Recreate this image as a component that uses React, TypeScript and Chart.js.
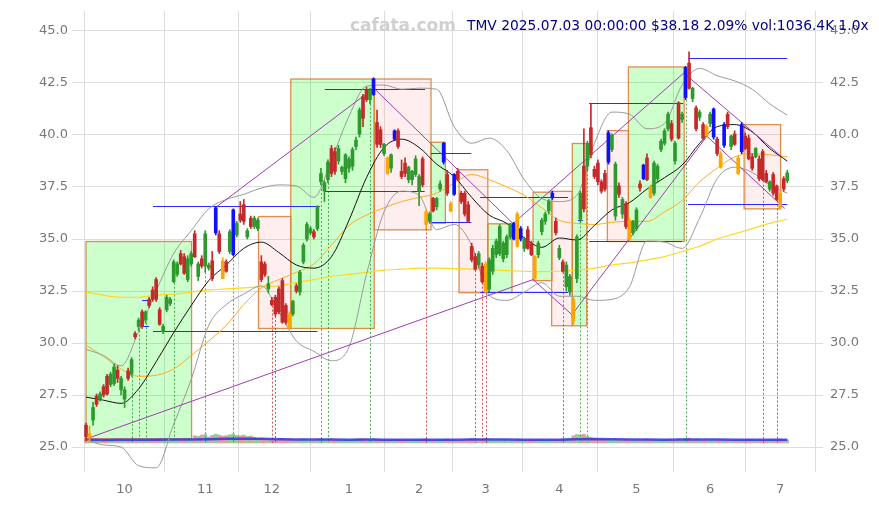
import React, { useEffect, useRef } from "react";
import { Chart, registerables } from "chart.js";
Chart.register(...registerables);

// ---- candles (trading-day index 0..200) ----
const OPEN = [
  26.05, 25.5, 26.3, 27.45, 27.3, 27.9, 28.4, 28.0, 28.05, 28.7,
  27.75, 27.3, 28.66, 28.5, 30.45, 30.8, 31.5, 31.1, 32.1, 32.55,
  33.05, 31.6, 30.55, 31.6, 31.9, 32.95, 33.3, 34.3, 34.15, 33.05,
  33.8, 35.25, 33.2, 34.05, 33.7, 33.6, 33.95, 35.3, 35.25, 33.95,
  33.9, 34.4, 34.25, 35.2, 36.2, 36.65, 35.1, 36.0, 35.6, 35.5,
  33.9, 33.8, 32.6, 32.05, 32.2, 32.6, 33.0, 31.8, 31.4, 31.4,
  32.75, 32.45, 33.9, 35.0, 35.3, 35.35, 35.5, 37.75, 37.3, 37.85,
  39.35, 39.2, 38.75, 38.25, 37.9, 38.4, 38.5, 39.45, 40.05, 41.85,
  42.15, 41.7, 41.95, 40.6, 40.25, 39.1, 38.9, 38.4, 39.8, 40.2,
  38.25, 38.65, 37.85, 37.85, 38.1, 37.3, 38.85, 36.3, 35.85, 36.95,
  36.55, 37.4, 38.7, 38.1, 36.7, 37.15, 38.25, 37.2, 37.2, 36.65,
  34.65, 34.15, 33.75, 33.7, 33.8, 32.6, 33.45, 34.25, 34.3, 34.05,
  34.25, 35.1, 35.0, 36.2, 35.0, 34.55, 35.45, 34.8, 34.15, 34.25,
  35.35, 35.85, 36.35, 37.0, 35.85, 34.1, 33.9, 32.7, 32.45, 32.1,
  33.1, 35.95, 38.5, 38.5, 40.35, 38.35, 38.65, 37.75, 38.15, 38.7,
  39.3, 36.1, 37.55, 36.2, 36.7, 35.9, 35.3, 35.5, 37.65, 37.9,
  38.9, 37.5, 37.2, 37.9, 39.3, 39.6, 40.3, 40.55, 38.75, 41.55,
  40.75, 41.8, 43.45, 41.75, 41.3, 40.85, 40.5, 40.4, 40.55, 39.9,
  39.8, 39.1, 39.5, 41.0, 39.45, 40.05, 38.9, 39.2, 39.95, 39.85,
  38.95, 38.95, 38.85, 39.2, 38.15, 37.4, 38.1, 37.55, 37.2, 37.9, 37.8,
];
const HIGH = [
  26.15, 26.0, 27.15, 27.55, 27.65, 28.0, 28.5, 28.6, 29.0, 28.9,
  28.4, 27.9, 28.8, 29.3, 30.55, 31.2, 31.6, 31.55, 32.2, 32.7,
  33.15, 31.7, 30.9, 32.3, 32.2, 34.0, 33.9, 34.45, 34.3, 34.2,
  34.4, 35.4, 33.9, 34.2, 35.4, 33.85, 34.4, 36.55, 35.4, 34.1,
  34.0, 35.45, 36.45, 35.85, 36.8, 36.9, 35.5, 36.1, 36.1, 36.0,
  34.2, 33.9, 33.2, 32.2, 32.3, 32.7, 33.1, 31.9, 31.5, 32.05,
  32.85, 33.5, 34.8, 35.8, 35.6, 35.45, 36.6, 38.4, 37.8, 38.8,
  39.5, 39.4, 39.5, 38.5, 39.1, 38.95, 39.4, 39.9, 41.3, 41.95,
  42.3, 42.25, 42.75, 41.2, 40.4, 39.6, 38.95, 39.1, 40.25, 40.3,
  38.8, 38.9, 38.5, 38.3, 39.0, 38.1, 38.95, 36.4, 36.3, 37.0,
  37.0, 37.8, 39.65, 38.3, 36.8, 38.15, 38.4, 37.3, 37.3, 36.8,
  34.8, 34.3, 34.4, 33.85, 33.9, 34.1, 34.7, 35.0, 35.7, 34.9,
  35.2, 35.75, 35.8, 36.3, 35.6, 35.1, 35.6, 34.9, 34.2, 34.9,
  36.0, 36.3, 36.9, 37.3, 36.0, 34.7, 34.0, 33.9, 33.3, 32.2,
  35.2, 37.3, 40.3, 39.7, 41.5, 38.5, 38.8, 37.85, 38.3, 40.2,
  40.05, 38.7, 37.7, 37.0, 36.8, 36.0, 35.9, 36.5, 37.8, 38.6,
  39.1, 37.6, 38.75, 38.6, 39.8, 40.3, 41.1, 40.7, 39.7, 41.6,
  41.1, 43.3, 44.0, 42.3, 41.4, 41.2, 40.6, 40.5, 41.1, 41.3,
  39.9, 39.2, 40.6, 41.1, 40.0, 40.2, 39.0, 40.6, 40.1, 40.0,
  39.1, 39.4, 39.0, 39.3, 38.3, 37.8, 38.2, 37.6, 37.3, 38.0, 38.3,
];
const LOW = [
  25.3, 25.2, 26.05, 26.95, 27.2, 27.4, 27.5, 27.9, 27.95, 28.1,
  27.5, 26.9, 28.2, 28.4, 30.2, 30.6, 30.7, 30.95, 31.7, 32.0,
  32.0, 30.85, 30.45, 31.5, 31.8, 32.9, 33.2, 33.75, 33.3, 32.95,
  33.7, 34.1, 33.0, 33.6, 33.4, 33.5, 33.0, 35.2, 34.3, 33.1,
  33.4, 34.3, 34.2, 35.1, 35.8, 35.7, 35.0, 35.5, 35.5, 35.4,
  32.95, 33.2, 32.4, 31.8, 31.3, 31.4, 30.95, 30.9, 30.7, 31.3,
  32.4, 32.3, 33.8, 34.9, 35.2, 35.0, 35.4, 37.6, 36.8, 37.7,
  38.0, 38.1, 38.6, 38.1, 37.7, 38.2, 38.3, 39.3, 39.9, 40.4,
  41.6, 41.5, 41.9, 39.4, 39.4, 39.0, 38.1, 38.2, 39.75, 39.35,
  37.9, 38.0, 37.7, 37.6, 38.0, 36.6, 37.5, 35.5, 35.75, 36.3,
  36.4, 37.3, 38.6, 37.1, 36.3, 37.1, 37.8, 36.7, 36.1, 35.8,
  33.9, 33.5, 33.6, 32.9, 32.4, 32.45, 33.3, 34.1, 34.2, 33.9,
  34.1, 35.0, 34.95, 34.6, 34.9, 34.4, 34.5, 34.2, 33.05, 34.1,
  35.2, 35.7, 36.2, 36.9, 35.2, 34.0, 33.4, 32.5, 32.3, 30.85,
  32.9, 35.8, 36.3, 38.3, 38.9, 37.9, 37.6, 37.2, 37.3, 38.6,
  39.2, 35.9, 37.0, 36.0, 35.5, 34.9, 35.2, 35.4, 37.3, 37.85,
  37.8, 36.95, 37.1, 37.7, 39.2, 39.5, 40.2, 39.7, 38.6, 39.8,
  40.6, 41.7, 42.2, 41.6, 40.2, 40.7, 39.8, 39.9, 40.4, 39.8,
  39.0, 38.4, 39.4, 40.3, 39.3, 39.5, 38.1, 39.1, 39.3, 38.8,
  38.3, 38.9, 37.8, 37.8, 37.7, 37.3, 37.1, 36.85, 36.45, 37.3, 37.7,
];
const CLOSE = [
  25.5, 25.65, 26.9, 27.05, 27.55, 27.5, 27.55, 28.5, 28.85, 28.3,
  28.3, 27.75, 28.3, 29.2, 30.3, 31.1, 30.8, 31.5, 31.8, 32.1,
  32.1, 30.9, 30.8, 32.2, 32.1, 33.9, 33.8, 33.8, 33.35, 34.05,
  34.3, 34.15, 33.8, 33.7, 35.25, 33.75, 33.1, 36.5, 34.4, 33.1,
  33.45, 35.35, 36.4, 35.75, 35.9, 35.85, 35.4, 35.6, 36.0, 35.9,
  33.05, 33.3, 32.85, 31.85, 31.4, 31.5, 31.0, 31.0, 30.75, 32.0,
  32.5, 33.4, 34.7, 35.7, 35.5, 35.1, 36.55, 38.15, 37.7, 38.7,
  38.15, 38.25, 39.35, 38.45, 39.05, 38.85, 39.3, 39.75, 41.2, 40.8,
  41.7, 42.15, 42.7, 39.55, 39.55, 39.55, 38.15, 39.05, 40.2, 39.45,
  38.0, 38.15, 38.45, 38.25, 38.85, 38.0, 37.6, 35.7, 36.2, 36.35,
  36.95, 37.65, 39.6, 37.2, 36.35, 38.1, 37.85, 36.8, 36.2, 35.85,
  34.0, 33.55, 34.3, 32.95, 32.45, 34.0, 34.55, 34.9, 35.6, 34.8,
  35.1, 35.7, 35.75, 34.65, 35.5, 35.0, 34.55, 34.25, 33.1, 34.8,
  35.9, 36.2, 36.8, 37.2, 35.3, 34.55, 33.45, 33.75, 33.2, 31.05,
  35.1, 37.2, 36.45, 39.6, 39.05, 38.0, 37.75, 37.3, 37.4, 40.1,
  40.0, 38.6, 37.15, 36.9, 35.6, 35.0, 35.85, 36.4, 37.45, 38.55,
  37.85, 37.0, 38.65, 38.5, 39.7, 40.2, 41.0, 39.8, 39.6, 39.85,
  41.0, 43.25, 42.25, 42.25, 40.3, 41.1, 39.85, 39.95, 41.0, 41.25,
  39.1, 38.45, 40.5, 40.4, 39.95, 39.55, 38.15, 40.5, 39.35, 38.85,
  38.4, 39.35, 37.9, 37.85, 37.75, 37.75, 37.2, 36.9, 36.5, 37.4, 38.18,
];
const VOLUME = [
  1500, 900, 1100, 1000, 800, 900, 1200, 900, 1000, 800, 1100,
  1000, 900, 1200, 1100, 900, 1000, 900, 1000, 1200, 1100,
  1300, 900, 1000, 900, 1200, 1000, 1000, 1100, 1200, 1000,
  2400, 2200, 2600, 2800, 2000, 2500, 2900, 2600, 2300, 2400,
  2700, 3000, 2500, 2400, 2600, 2200, 2300, 1900, 1500, 1600,
  1300, 1100, 1200, 1000, 1300, 1500, 1200, 1400, 1100, 1000,
  1100, 1300, 1000, 900, 800, 1200, 1400, 1000, 1200, 1300,
  1000, 900, 800, 1100, 900, 1000, 1200, 1400, 1300, 1100,
  1000, 1500, 1300, 1100, 900, 1000, 900, 1200, 1100, 1000,
  900, 800, 900, 1000, 1100, 1300, 1400, 1000, 900, 1000,
  1100, 1200, 1300, 1000, 1000, 900, 1000, 1100, 1200, 1500,
  1400, 1200, 1300, 1500, 1300, 1100, 1000, 1200, 1000, 1100,
  1000, 900, 1200, 1000, 900, 1000, 900, 1100, 1000, 1100,
  900, 1000, 1100, 1000, 1200, 1300, 1400, 1600, 2400, 2800,
  2600, 2900, 2200, 1800, 1500, 1300, 1200, 1100, 1200, 1000,
  1300, 1100, 1000, 1100, 1200, 1000, 1100, 900, 1000, 1200,
  1000, 1100, 900, 1000, 1100, 1200, 1000, 900, 1300, 1000,
  1500, 1600, 1100, 1200, 1000, 900, 1000, 1100, 1000, 1100,
  1000, 1100, 900, 800, 1000, 900, 1100, 1000, 1200, 1100,
  900, 1100, 1000, 900, 1000, 1100, 1200, 1300, 1000, 1036.4,
];
const BLUE_IDX = [37, 42, 82, 88, 102, 105, 122, 124, 133, 149, 159, 171, 179, 182, 187];
const ORANGE_IDX = [1, 39, 58, 86, 97, 104, 114, 123, 128, 139, 155, 161, 177, 181, 186, 198];

// ---- axis ticks ----
const MONTH_IDX = [11, 34, 53, 75, 95, 114, 135, 157, 178, 198];
const MONTH_LABELS = ["10", "11", "12", "1", "2", "3", "4", "5", "6", "7"];
const Y_TICKS = [25, 27.5, 30, 32.5, 35, 37.5, 40, 42.5, 45];

// ---- indicator lines (read every 5th trading day) ----
const LINE_IDX = [0, 5, 10, 15, 20, 25, 30, 35, 40, 45, 50, 55, 60, 65, 70, 75, 80, 85, 90, 95, 100,
  105, 110, 115, 120, 125, 130, 135, 140, 145, 150, 155, 160, 165, 170, 175, 180, 185, 190, 195, 200];
const MA20 = [27.4, 27.25, 27.1, 27.8, 29.1, 30.5, 31.8, 33.0, 33.75, 34.55, 34.85, 34.35, 33.75, 33.6,
  34.15, 35.9, 37.95, 39.4, 39.8, 39.4, 38.6, 38.0, 37.0, 36.15, 35.75, 35.05, 34.6, 35.05, 34.95, 35.65,
  36.4, 36.75, 37.4, 37.95, 38.55, 39.6, 40.4, 40.5, 40.15, 39.35, 38.75];
const BB_UP = [29.7, 29.4, 28.9, 30.55, 32.5, 34.3, 35.4, 36.45, 36.9, 37.15, 37.45, 37.6, 37.55, 37.0,
  38.8, 40.9, 42.35, 42.4, 42.2, 42.25, 42.2, 40.4, 39.6, 39.85, 39.25, 37.85, 36.95, 36.8, 37.1, 39.6,
  41.1, 41.0, 40.3, 40.55, 42.4, 43.2, 42.85, 42.6, 42.2, 41.5, 40.95];
const BB_LO = [25.35, 25.1, 25.0, 24.1, 24.0, 26.1, 28.25, 30.85, 31.85, 32.35, 32.75, 31.5, 30.1, 29.6,
  29.15, 29.8, 33.3, 36.3, 37.3, 37.1, 35.45, 35.7, 34.7, 32.3, 32.05, 32.45, 32.9, 32.25, 32.25, 32.05,
  32.1, 32.7, 34.9, 34.85, 34.55, 36.0, 37.9, 38.45, 38.2, 37.6, 37.2];
const MA50 = [29.9, 29.35, 28.75, 28.4, 28.45, 28.75, 29.4, 30.1, 30.85, 31.85, 32.65, 33.05, 33.4, 33.8,
  34.7, 35.65, 36.15, 36.5, 36.8, 37.0, 37.2, 37.7, 38.1, 37.85, 37.5, 37.1, 36.5, 35.9, 35.75, 35.7,
  35.8, 35.85, 35.85, 36.3, 36.85, 37.75, 38.4, 38.95, 39.1, 39.05, 38.95];
const MA200 = [32.45, 32.3, 32.2, 32.2, 32.3, 32.35, 32.45, 32.55, 32.6, 32.65, 32.7, 32.75, 32.9, 33.05,
  33.2, 33.3, 33.4, 33.5, 33.55, 33.6, 33.6, 33.58, 33.55, 33.52, 33.48, 33.45, 33.43, 33.45, 33.5, 33.6,
  33.75, 33.85, 34.0, 34.15, 34.4, 34.65, 35.0, 35.25, 35.5, 35.75, 35.95];
const VOL_MA = [1050, 1000, 1020, 1050, 1080, 1100, 1150, 1250, 1350, 1400, 1350, 1250, 1150, 1100,
  1100, 1080, 1100, 1080, 1060, 1050, 1060, 1080, 1120, 1150, 1120, 1080, 1050, 1080, 1200, 1300,
  1250, 1150, 1100, 1080, 1100, 1120, 1100, 1060, 1050, 1050, 1060];

// ---- trend lines (zigzag through pivots) ----
const TREND_UP_IDX = [37.4, 82.1, 121.8, 170.5, 199.9];
const TREND_UP_VAL = [36.57, 42.25, 35.74, 42.98, 38.74];
const TREND_LO_IDX = [0, 127.5, 138.6, 177.1, 199.3];
const TREND_LO_VAL = [25.39, 33.05, 31.36, 39.94, 36.47];

// ---- range boxes ----
const BOX_START = [0, 49.2, 58.4, 82.2, 98.4, 106.4, 114.6, 127.5, 132.8, 138.7, 148.7, 154.7, 187.7];
const BOX_END = [30.1, 58.4, 82.2, 98.4, 102.5, 114.6, 121.5, 132.9, 138.7, 142.8, 154.7, 170.6, 198.1];
const BOX_LOW = [25.4, 30.7, 30.7, 35.44, 35.76, 32.42, 32.42, 33.0, 30.83, 30.83, 34.88, 34.88, 36.45];
const BOX_HIGH = [34.88, 36.08, 42.69, 42.69, 39.65, 38.33, 35.73, 37.25, 37.29, 39.59, 40.21, 43.27, 40.5];
const BOX_UP = [true, false, true, false, true, false, true, true, false, true, false, true, false];

// ---- horizontal level segments ----
const SEG_START = [19.1, 19.1, 16.0, 16.0, 68.1, 68.1, 98.4, 98.4, 112.4, 112.4, 140.3, 143.5, 143.5, 171.7, 171.7];
const SEG_END = [66.7, 66.0, 18.2, 18.0, 96.7, 96.6, 109.9, 109.9, 137.5, 137.5, 141.7, 170.3, 170.0, 200.0, 200.0];
const SEG_VAL = [36.57, 30.6, 32.05, 30.83, 42.23, 37.29, 39.13, 35.8, 37.03, 32.46, 35.9, 41.52, 34.91, 43.68, 36.7];

// ---- signal markers ----
const SIG_UP_IDX = [13, 15, 17, 25, 34, 42, 67, 69, 81, 141, 143, 171];
const SIG_DN_IDX = [53, 54, 97, 111, 113, 114, 136, 193, 197];
const SIG_BASE = 25.2;

const FONT = "'DejaVu Sans', sans-serif";

function candleColor(i: number): string {
  if (BLUE_IDX.includes(i)) return "#1010ff";
  if (ORANGE_IDX.includes(i)) return "#ffa500";
  return CLOSE[i] >= OPEN[i] ? "#2e9a2e" : "#c42a2a";
}

const overlayPlugin = {
  id: "overlay",
  beforeDatasetsDraw(chart: any) {
    const { ctx, chartArea, scales } = chart;
    const x = scales.x, y = scales.y;
    ctx.save();
    ctx.beginPath();
    ctx.rect(chartArea.left, chartArea.top, chartArea.right - chartArea.left, chartArea.bottom - chartArea.top);
    ctx.clip();
    for (let k = 0; k < BOX_START.length; k++) {
      const x0 = x.getPixelForValue(BOX_START[k]);
      const x1 = x.getPixelForValue(BOX_END[k]);
      const y0 = y.getPixelForValue(BOX_HIGH[k]);
      const y1 = y.getPixelForValue(BOX_LOW[k]);
      ctx.fillStyle = BOX_UP[k] ? "rgba(0,255,0,0.2)" : "rgba(255,40,40,0.08)";
      ctx.fillRect(x0, y0, x1 - x0, y1 - y0);
      ctx.strokeStyle = "rgba(220,130,60,0.9)";
      ctx.lineWidth = 1.3;
      ctx.strokeRect(x0, y0, x1 - x0, y1 - y0);
    }
    ctx.setLineDash([2, 2]);
    ctx.lineWidth = 1;
    const drawSig = (idx: number[], color: string) => {
      ctx.strokeStyle = color;
      for (const i of idx) {
        const px = Math.round(x.getPixelForValue(i)) + 0.5;
        ctx.beginPath();
        ctx.moveTo(px, y.getPixelForValue(LOW[i]));
        ctx.lineTo(px, y.getPixelForValue(SIG_BASE));
        ctx.stroke();
      }
    };
    drawSig(SIG_UP_IDX, "rgba(40,150,40,0.8)");
    drawSig(SIG_DN_IDX, "rgba(200,40,40,0.8)");
    ctx.setLineDash([]);
    ctx.strokeStyle = "#2a2aff";
    ctx.lineWidth = 1;
    for (let k = 0; k < SEG_START.length; k++) {
      const py = Math.round(y.getPixelForValue(SEG_VAL[k])) + 0.5;
      ctx.beginPath();
      ctx.moveTo(x.getPixelForValue(SEG_START[k]), py);
      ctx.lineTo(x.getPixelForValue(SEG_END[k]), py);
      ctx.stroke();
    }
    ctx.restore();
  },
};

export default function App() {
  const ref = useRef<HTMLCanvasElement | null>(null);
  useEffect(() => {
    if (!ref.current) return;
    Chart.defaults.font.family = FONT;
    const n = OPEN.length;
    const idx = Array.from({ length: n }, (_, i) => i);
    const colors = idx.map(candleColor);
    const volColors = idx.map((i) => (CLOSE[i] >= OPEN[i] ? "rgba(46,154,46,0.5)" : "rgba(196,42,42,0.45)"));
    const lineData = (vals: number[]) => LINE_IDX.map((xv, k) => ({ x: xv, y: vals[k] }));
    const lineDs = (vals: number[], color: string, width: number, order: number) => ({
      type: "line" as const,
      data: lineData(vals),
      borderColor: color,
      borderWidth: width,
      pointRadius: 0,
      cubicInterpolationMode: "monotone" as const,
      order,
      yAxisID: "y",
    });
    const yTicks = (s: any) => { s.ticks = Y_TICKS.map((v) => ({ value: v })); };
    const fitY = (w: number) => (s: any) => { s.width = w; s.paddingTop = 0; s.paddingBottom = 0; };
    const tickFont = { family: FONT, size: 13 };
    const chart = new Chart(ref.current, {
      type: "bar",
      data: {
        datasets: [
          {
            type: "bar",
            data: idx.map((i) => ({ x: i, y: [Math.min(OPEN[i], CLOSE[i]), Math.max(OPEN[i], CLOSE[i])] })),
            backgroundColor: colors,
            barThickness: 3,
            minBarLength: 1,
            grouped: false,
            order: 0,
            yAxisID: "y",
          } as any,
          {
            type: "bar",
            data: idx.map((i) => ({ x: i, y: [LOW[i], HIGH[i]] })),
            backgroundColor: colors,
            barThickness: 1,
            grouped: false,
            order: 1,
            yAxisID: "y",
          } as any,
          {
            type: "line",
            data: TREND_UP_IDX.map((xv, k) => ({ x: xv, y: TREND_UP_VAL[k] })),
            borderColor: "#a03cb0",
            borderWidth: 1,
            pointRadius: 0,
            order: 2,
            yAxisID: "y",
          },
          {
            type: "line",
            data: TREND_LO_IDX.map((xv, k) => ({ x: xv, y: TREND_LO_VAL[k] })),
            borderColor: "#a03cb0",
            borderWidth: 1,
            pointRadius: 0,
            order: 2,
            yAxisID: "y",
          },
          lineDs(MA20, "#111111", 1, 3),
          lineDs(BB_UP, "#999999", 1, 4),
          lineDs(BB_LO, "#999999", 1, 4),
          lineDs(MA50, "#ffaa22", 1, 5),
          lineDs(MA200, "#ffd820", 1.2, 6),
          {
            type: "bar",
            data: idx.map((i) => ({ x: i, y: VOLUME[i] })),
            backgroundColor: volColors,
            barThickness: 3,
            grouped: false,
            order: 8,
            yAxisID: "yv",
          } as any,
          {
            type: "line",
            data: LINE_IDX.map((xv, k) => ({ x: xv, y: VOL_MA[k] })),
            borderColor: "rgba(50,50,230,0.85)",
            borderWidth: 2.5,
            pointRadius: 0,
            order: 7,
            yAxisID: "yv",
          },
        ],
      },
      options: {
        animation: false,
        responsive: false,
        layout: { padding: { top: 11, left: 0, right: 0, bottom: 0 } },
        plugins: { legend: { display: false }, tooltip: { enabled: false } },
        scales: {
          x: {
            type: "linear",
            min: -4,
            max: 210.2,
            offset: false,
            border: { display: false },
            grid: { color: "#dddddd", drawTicks: false },
            afterBuildTicks: (s: any) => { s.ticks = MONTH_IDX.map((v) => ({ value: v })); },
            afterFit: (s: any) => { s.height = 33; s.paddingLeft = 0; s.paddingRight = 0; },
            ticks: {
              autoSkip: false,
              maxRotation: 0,
              padding: 10,
              color: "#777777",
              font: tickFont,
              callback: (v: any) => MONTH_LABELS[MONTH_IDX.indexOf(Number(v))] ?? "",
            },
          },
          y: {
            type: "linear",
            position: "left",
            min: 23.8,
            max: 45.96,
            border: { display: false },
            grid: { color: "#dddddd", drawTicks: false },
            afterBuildTicks: yTicks,
            afterFit: fitY(72),
            ticks: { padding: 4, color: "#777777", font: tickFont, callback: (v: any) => Number(v).toFixed(1) },
          },
          y2: {
            type: "linear",
            position: "right",
            min: 23.8,
            max: 45.96,
            border: { display: false },
            grid: { display: false, drawTicks: false },
            afterBuildTicks: yTicks,
            afterFit: fitY(56),
            ticks: { padding: 7, color: "#777777", font: tickFont, callback: (v: any) => Number(v).toFixed(1) },
          },
          yv: { type: "linear", display: false, min: -9660, max: 143500 },
        },
      } as any,
      plugins: [overlayPlugin],
    });
    return () => chart.destroy();
  }, []);

  return (
    <div style={{ position: "fixed", left: 0, top: 0, width: 879, height: 505, background: "#ffffff" }}>
      <canvas ref={ref} width={879} height={505} style={{ position: "absolute", left: 0, top: 0 }} />
      <div
        style={{
          position: "absolute", left: 350, top: 15, fontFamily: FONT, fontWeight: "bold",
          fontSize: 17, lineHeight: "20px", color: "#d0d0d0", whiteSpace: "nowrap",
        }}
      >
        cafata.com
      </div>
      <div
        style={{
          position: "absolute", left: 467, top: 17, fontFamily: FONT, fontSize: 13.8,
          lineHeight: "16px", color: "#000080", whiteSpace: "nowrap",
        }}
      >
        TMV 2025.07.03 00:00:00 $38.18 2.09% vol:1036.4K 1.0x
      </div>
    </div>
  );
}
